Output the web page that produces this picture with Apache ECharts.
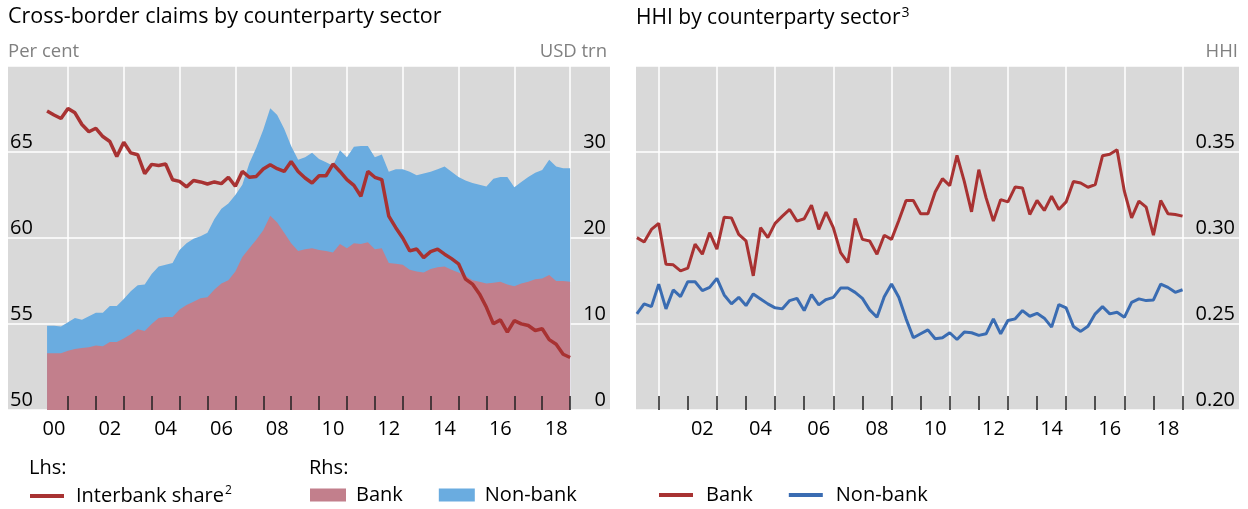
<!DOCTYPE html>
<html>
<head>
<meta charset="utf-8">
<title>Cross-border claims and HHI by counterparty sector</title>
<script src="https://cdn.jsdelivr.net/npm/echarts@6/dist/echarts.min.js"></script>
<style>
  html, body { margin: 0; padding: 0; background: #fff; }
  #chart { width: 1248px; height: 509px; }
</style>
</head>
<body>
<div id="chart"></div>
<script>
// quarterly observations, 2000 Q1 .. 2018 Q4 (plotted at quarter end)
var quarters = [];
for (var q = 0; q < 76; q++) quarters.push(2000.25 + q * 0.25);

// Lhs, per cent
var interbankShare = [67.38,67.15,66.95,67.53,67.28,66.6,66.18,66.38,65.90,65.61,
  64.74,65.57,64.95,64.84,63.74,64.28,64.22,64.30,63.39,63.29,
  62.97,63.34,63.26,63.14,63.26,63.16,63.53,63.01,63.87,63.53,
  63.58,64.01,64.26,64.03,63.87,64.45,63.87,63.49,63.20,63.62,
  63.62,64.30,63.87,63.39,63.06,62.43,63.87,63.53,63.39,61.27,
  60.6,60.0,59.25,59.36,58.86,59.21,59.35,59.06,58.8,58.5,
  57.61,57.32,56.75,55.97,55.01,55.24,54.53,55.20,55.01,54.91,
  54.62,54.72,54.09,53.82,53.24,53.05];

// Rhs, USD trn
var bankClaims = [6.6,6.6,6.6,6.9,7.1,7.2,7.3,7.5,7.4,7.9,
  7.9,8.3,8.8,9.4,9.2,10.0,10.7,10.8,10.8,11.7,
  12.2,12.6,13.0,13.1,14.0,14.7,15.1,16.1,17.8,18.8,
  19.8,20.9,22.6,21.8,20.6,19.4,18.5,18.7,18.8,18.6,
  18.5,18.3,19.3,18.8,19.4,19.3,19.5,18.7,18.8,17.1,
  17.0,16.9,16.3,16.1,16.0,16.4,16.6,16.7,16.3,16.0,
  15.6,15.1,14.9,14.7,14.8,14.9,14.6,14.4,14.7,14.9,
  15.2,15.3,15.7,15.0,15.0,14.9];
var nonBankClaims = [3.2,3.2,3.1,3.3,3.6,3.3,3.6,3.8,3.9,4.2,
  4.2,4.6,5.0,5.1,5.4,5.8,6.0,6.1,6.3,6.9,
  7.2,7.3,7.2,7.5,8.2,8.7,8.9,8.9,8.4,9.9,
  10.7,11.7,12.5,12.5,12.1,11.3,10.6,10.7,11.1,10.6,
  10.3,10.1,10.9,10.6,11.2,11.4,11.2,10.7,10.9,10.6,
  11.0,11.1,11.4,11.2,11.5,11.3,11.4,11.6,11.4,11.1,
  11.1,11.3,11.3,11.3,12.1,12.2,12.5,11.5,11.8,12.2,
  12.4,12.6,13.4,13.3,13.1,13.2];

// HHI
var hhiBank = [0.3002,0.2977,0.3050,0.3085,0.2848,0.2844,0.2809,0.2825,0.2964,0.2906,
  0.3031,0.2935,0.3121,0.3117,0.3021,0.2983,0.2780,0.3060,0.3002,0.3085,
  0.3127,0.3166,0.3098,0.3112,0.3191,0.3050,0.3150,0.3060,0.2915,0.2857,
  0.3114,0.2992,0.2983,0.2906,0.3016,0.2992,0.3102,0.3218,0.3218,0.3141,
  0.3141,0.3267,0.3345,0.3305,0.3480,0.3329,0.3152,0.3397,0.3233,0.3098,
  0.3223,0.3210,0.3297,0.3291,0.3137,0.3218,0.3160,0.3243,0.3166,0.3210,
  0.3329,0.3320,0.3295,0.3310,0.3478,0.3487,0.3513,0.3272,0.3117,0.3214,
  0.3179,0.3017,0.3218,0.3141,0.3137,0.3127];
var hhiNonBank = [0.2559,0.2617,0.2601,0.2732,0.2588,0.2698,0.2659,0.2746,0.2746,0.2694,
  0.2713,0.2765,0.2669,0.2617,0.2655,0.2607,0.2675,0.2646,0.2617,0.2594,
  0.2588,0.2636,0.2649,0.2578,0.2671,0.2611,0.2642,0.2655,0.2709,0.2709,
  0.2684,0.2649,0.2582,0.2539,0.2659,0.2732,0.2655,0.2530,0.2420,0.2443,
  0.2466,0.2414,0.2420,0.2449,0.2410,0.2453,0.2449,0.2434,0.2443,0.2530,
  0.2443,0.2520,0.2530,0.2578,0.2545,0.2562,0.2534,0.2482,0.2613,0.2594,
  0.2486,0.2457,0.2487,0.2559,0.2601,0.2559,0.2568,0.2539,0.2626,0.2646,
  0.2636,0.2640,0.2732,0.2713,0.2684,0.2699];

// axis marks
var yearTicks = [2001,2002,2003,2004,2005,2006,2007,2008,2009,2010,2011,2012,2013,2014,2015,2016,2017,2018,2019];
var gridYears = [2001,2003,2005,2007,2009,2011,2013,2015,2017,2019];
var leftLabels = [2000.5,2002.5,2004.5,2006.5,2008.5,2010.5,2012.5,2014.5,2016.5,2018.5];
var rightLabels = [2002.5,2004.5,2006.5,2008.5,2010.5,2012.5,2014.5,2016.5,2018.5];

function pairs(vals) {
  return vals.map(function (v, i) { return [quarters[i], v]; });
}
// non-bank sits on top of bank: its upper edge is bank + non-bank
var totalClaims = bankClaims.map(function (v, i) { return +(v + nonBankClaims[i]).toFixed(2); });

var FONT = 'Open Sans';
var RED = '#a83232', BLUE = '#3a6cb2', PINK = '#c27f8c', SKY = '#6aace0', BG = '#d9d9d9';

function labelAxis(grid, min, max, labels) {
  return {
    type: 'value', gridIndex: grid, min: min, max: max, z: 5,
    axisLine: { show: false },
    axisTick: { show: true, inside: true, length: 14, customValues: yearTicks,
                lineStyle: { color: '#222', width: 1.5 } },
    axisLabel: { customValues: labels, fontSize: 20, color: '#000', margin: 9,
                 formatter: function (v) { return String(Math.floor(v)).slice(2); } },
    splitLine: { show: false }
  };
}
function gridAxis(grid, min, max) {
  return {
    type: 'value', gridIndex: grid, min: min, max: max,
    axisLine: { show: false },
    axisTick: { show: false, customValues: gridYears },
    axisLabel: { show: false },
    splitLine: { show: true, lineStyle: { color: '#fff', width: 1.5 } }
  };
}
function plainTitle(text, pos, top, size, color) {
  var t = { text: text, top: top, padding: 0,
            textStyle: { fontSize: size, fontWeight: 'normal', color: color } };
  for (var k in pos) t[k] = pos[k];
  return t;
}

var chart = echarts.init(document.getElementById('chart'));
chart.setOption({
  animation: false,
  textStyle: { fontFamily: FONT },
  title: [
    plainTitle('Cross-border claims by counterparty sector', { left: 8 }, 6, 21.5, '#000'),
    plainTitle('Per cent', { left: 8 }, 42, 18.5, '#808080'),
    plainTitle('USD trn', { right: 641 }, 42, 18.5, '#808080'),
    { text: '{a|HHI by counterparty sector}{s|3}', left: 636, top: 6, padding: 0,
      textStyle: { fontWeight: 'normal', rich: {
        a: { fontSize: 21, color: '#000', fontFamily: FONT, fontWeight: 'normal' },
        s: { fontSize: 14, color: '#000', fontFamily: FONT, fontWeight: 'normal', verticalAlign: 'top', padding: [0, 0, 10, 1] } } } },
    plainTitle('HHI', { right: 10 }, 42, 18.5, '#808080'),
    plainTitle('Lhs:', { left: 29 }, 458, 20, '#000'),
    plainTitle('Rhs:', { left: 309 }, 458, 20, '#000')
  ],
  legend: [
    { data: ['Interbank share'], left: 30, top: 485, padding: 0, icon: 'rect', itemWidth: 34, itemHeight: 4,
      selectedMode: false,
      formatter: function (n) { return '{a|' + n + '}{s|2}'; },
      textStyle: { padding: [0, 0, 0, 7], rich: {
        a: { fontSize: 20, color: '#000', fontFamily: FONT },
        s: { fontSize: 12, color: '#000', fontFamily: FONT, verticalAlign: 'top', padding: [0, 0, 10, 1] } } } },
    { data: ['Bank', 'Non-bank'], left: 310, top: 485, padding: 0, icon: 'rect', itemWidth: 36, itemHeight: 13,
      itemGap: 36, selectedMode: false,
      textStyle: { fontSize: 20, color: '#000', padding: [0, 0, 0, 5] } },
    { data: ['HHI Bank', 'HHI Non-bank'], left: 659, top: 485, padding: 0, icon: 'rect', itemWidth: 34, itemHeight: 4,
      itemGap: 36, selectedMode: false,
      formatter: function (n) { return n.replace('HHI ', ''); },
      textStyle: { fontSize: 20, color: '#000', padding: [0, 0, 0, 8] } }
  ],
  grid: [
    { left: 8, top: 66, width: 602, height: 344, show: true, backgroundColor: BG, borderWidth: 0 },
    { left: 636, top: 66, width: 603, height: 344, show: true, backgroundColor: BG, borderWidth: 0 }
  ],
  xAxis: [
    labelAxis(0, 1998.85, 2020.43, leftLabels),
    gridAxis(0, 1998.85, 2020.43),
    labelAxis(1, 2000.22, 2020.94, rightLabels),
    gridAxis(1, 2000.22, 2020.94)
  ],
  yAxis: [
    { type: 'value', gridIndex: 0, position: 'left', min: 50, max: 70, interval: 5,
      axisLine: { show: false }, axisTick: { show: false },
      axisLabel: { inside: true, margin: 2, verticalAlign: 'bottom', showMaxLabel: false,
                   fontSize: 20, color: '#000' },
      splitLine: { show: true, lineStyle: { color: '#fff', width: 1.5 } } },
    { type: 'value', gridIndex: 0, position: 'right', min: 0, max: 40, interval: 10,
      axisLine: { show: false }, axisTick: { show: false },
      axisLabel: { inside: true, margin: 4, verticalAlign: 'bottom', showMaxLabel: false,
                   fontSize: 20, color: '#000' },
      splitLine: { show: false } },
    { type: 'value', gridIndex: 1, position: 'right', min: 0.2, max: 0.4, interval: 0.05,
      axisLine: { show: false }, axisTick: { show: false },
      axisLabel: { inside: true, margin: 4, verticalAlign: 'bottom', showMaxLabel: false,
                   fontSize: 20, color: '#000',
                   formatter: function (v) { return v.toFixed(2); } },
      splitLine: { show: true, lineStyle: { color: '#fff', width: 1.5 } } }
  ],
  series: [
    { name: 'Non-bank', type: 'line', xAxisIndex: 0, yAxisIndex: 1,
      data: pairs(totalClaims), symbol: 'none', color: SKY,
      lineStyle: { width: 0 }, areaStyle: { color: SKY, opacity: 1 } },
    { name: 'Bank', type: 'line', xAxisIndex: 0, yAxisIndex: 1,
      data: pairs(bankClaims), symbol: 'none', color: PINK,
      lineStyle: { width: 0 }, areaStyle: { color: PINK, opacity: 1 } },
    { name: 'Interbank share', type: 'line', xAxisIndex: 0, yAxisIndex: 0,
      data: pairs(interbankShare), symbol: 'none', color: RED,
      lineStyle: { width: 3.5, color: RED } },
    { name: 'HHI Bank', type: 'line', xAxisIndex: 2, yAxisIndex: 2,
      data: pairs(hhiBank), symbol: 'none', color: RED,
      lineStyle: { width: 3, color: RED } },
    { name: 'HHI Non-bank', type: 'line', xAxisIndex: 2, yAxisIndex: 2,
      data: pairs(hhiNonBank), symbol: 'none', color: BLUE,
      lineStyle: { width: 3, color: BLUE } }
  ]
});
</script>
</body>
</html>
